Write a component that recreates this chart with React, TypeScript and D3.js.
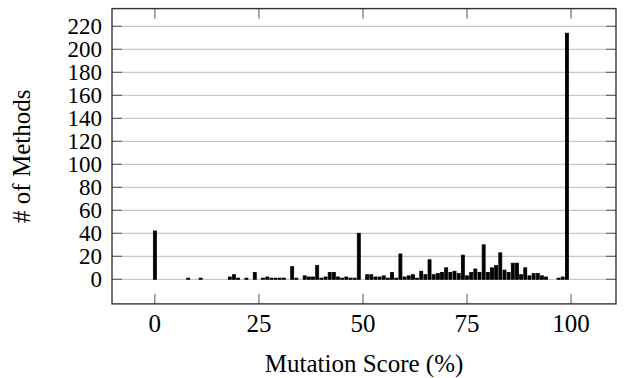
import React, { useEffect, useRef } from 'react';
import * as d3 from 'd3';

// mutation score bucket (0..99) -> number of methods
const scores: number[] = d3.range(0, 100);
const methodCounts: number[] = [
  42, 0, 0, 0, 0, 0, 0, 0, 1, 0,
  0, 1, 0, 0, 0, 0, 0, 0, 2, 4,
  1, 0, 1, 0, 6, 0, 1, 2, 1, 1,
  1, 1, 0, 11, 1, 0, 3, 2, 2, 12,
  1, 2, 6, 6, 2, 1, 2, 1, 1, 40,
  0, 4, 4, 2, 2, 3, 1, 6, 1, 22,
  2, 3, 4, 1, 7, 4, 17, 4, 5, 6,
  10, 6, 7, 5, 21, 3, 6, 9, 6, 30,
  6, 10, 12, 23, 8, 6, 14, 14, 4, 10,
  3, 5, 5, 3, 2, 0, 0, 1, 2, 214,
];
const xTicks: number[] = [0, 25, 50, 75, 100];
const yTicks: number[] = d3.range(0, 221, 20);

const W = 631;
const H = 378;

export default function App() {
  const svgRef = useRef<SVGSVGElement>(null);

  useEffect(() => {
    if (!svgRef.current) return;
    const svg = d3.select(svgRef.current);
    svg.selectAll('*').remove();

    const left = 112;
    const right = 616;
    const top = 8.6;
    const bottom = 303.9;
    const fs = 25;

    // enlarged limits like pgfplots
    const xScale = d3.scaleLinear().domain([-10.3, 110.8]).range([left, right]);
    const yScale = d3.scaleLinear().domain([-21.4, 235.4]).range([bottom, top]);

    const g = svg.append('g').style('font-family', "'Liberation Serif', 'Times New Roman', Times, serif");

    // horizontal grid
    g.append('g')
      .selectAll('line')
      .data(yTicks)
      .enter()
      .append('line')
      .attr('x1', left)
      .attr('x2', right)
      .attr('y1', (d) => yScale(d))
      .attr('y2', (d) => yScale(d))
      .attr('stroke', '#c8c8c8')
      .attr('stroke-width', 1.2);

    // bars
    const barW = 3;
    g.append('g')
      .selectAll('rect')
      .data(scores)
      .enter()
      .append('rect')
      .attr('x', (d) => xScale(d) - barW / 2)
      .attr('width', barW)
      .attr('y', (d, i) => yScale(methodCounts[i]))
      .attr('height', (d, i) => yScale(0) - yScale(methodCounts[i]))
      .attr('fill', '#000')
      .attr('stroke', '#000')
      .attr('stroke-width', 0.8);

    // ticks (inside, both sides)
    const tickLen = 10;
    const ticks = g.append('g').attr('stroke', '#555').attr('stroke-width', 1);
    xTicks.forEach((t) => {
      const x = xScale(t);
      ticks.append('line').attr('x1', x).attr('x2', x).attr('y1', bottom).attr('y2', bottom - tickLen);
      ticks.append('line').attr('x1', x).attr('x2', x).attr('y1', top).attr('y2', top + tickLen);
    });
    yTicks.forEach((t) => {
      const y = yScale(t);
      ticks.append('line').attr('x1', left).attr('x2', left + tickLen).attr('y1', y).attr('y2', y);
      ticks.append('line').attr('x1', right).attr('x2', right - tickLen).attr('y1', y).attr('y2', y);
    });

    // frame
    g.append('rect')
      .attr('x', left)
      .attr('y', top)
      .attr('width', right - left)
      .attr('height', bottom - top)
      .attr('fill', 'none')
      .attr('stroke', '#333')
      .attr('stroke-width', 1.4);

    // tick labels
    g.append('g')
      .selectAll('text')
      .data(xTicks)
      .enter()
      .append('text')
      .attr('x', (d) => xScale(d))
      .attr('y', 332)
      .attr('text-anchor', 'middle')
      .attr('font-size', fs)
      .attr('fill', '#000')
      .text((d) => String(d));

    g.append('g')
      .selectAll('text')
      .data(yTicks)
      .enter()
      .append('text')
      .attr('x', 102)
      .attr('y', (d) => yScale(d) + 7.5)
      .attr('text-anchor', 'end')
      .attr('font-size', 23)
      .attr('fill', '#000')
      .text((d) => String(d));

    // axis labels
    g.append('text')
      .attr('x', (left + right) / 2)
      .attr('y', 372)
      .attr('text-anchor', 'middle')
      .attr('font-size', fs)
      .attr('fill', '#000')
      .text('Mutation Score (%)');

    g.append('text')
      .attr('transform', `translate(30,${(top + bottom) / 2}) rotate(-90)`)
      .attr('text-anchor', 'middle')
      .attr('font-size', fs)
      .attr('fill', '#000')
      .text('# of Methods');
  }, []);

  return (
    <svg
      ref={svgRef}
      width={W}
      height={H}
      style={{ position: 'absolute', left: 0, top: 0, background: '#fff' }}
    />
  );
}
